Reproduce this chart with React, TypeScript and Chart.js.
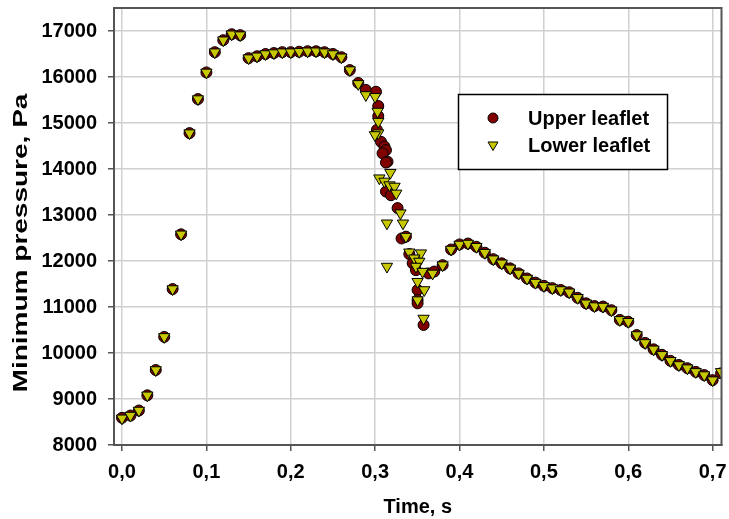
import { useEffect, useRef } from "react";
import { Chart, registerables } from "chart.js";

Chart.register(...registerables);

const FONT = "'Liberation Sans', Arial, sans-serif";

// ---- data ----
const upperTime = [
  0.0, 0.01, 0.02, 0.03, 0.04, 0.05, 0.06, 0.07, 0.08, 0.09, 0.1, 0.11, 0.12, 0.13, 0.14,
  0.15, 0.16, 0.17, 0.18, 0.19, 0.2, 0.21, 0.22, 0.23, 0.24, 0.25, 0.26, 0.27, 0.28,
  0.289, 0.301, 0.3037, 0.3037, 0.3021, 0.307, 0.311, 0.3128, 0.3088, 0.3147, 0.3128,
  0.3128, 0.3187, 0.3266, 0.3313, 0.3365, 0.3405, 0.3445, 0.3484, 0.3503, 0.3503, 0.3503,
  0.3574, 0.3633, 0.37, 0.38,
  0.39, 0.4, 0.41, 0.42, 0.43, 0.44, 0.45, 0.46, 0.47, 0.48, 0.49, 0.5, 0.51, 0.52, 0.53,
  0.54, 0.55, 0.56, 0.57, 0.58, 0.59, 0.6, 0.61, 0.62, 0.63, 0.64, 0.65, 0.66, 0.67, 0.68,
  0.69, 0.7, 0.71,
];
const upperPressure = [
  8590, 8640, 8750, 9080, 9630, 10350, 11390, 12580, 14780, 15520, 16100, 16540, 16800, 16930, 16910,
  16410, 16450, 16500, 16520, 16540, 16540, 16550, 16560, 16560, 16540, 16500, 16430, 16150, 15870,
  15720, 15680, 15370, 15150, 14850, 14590, 14490, 14410, 14340, 14160, 14140,
  13510, 13430, 13150, 12490, 12530, 12150, 11950, 11800, 11370, 11150, 11080,
  10610, 11730, 11770, 11910,
  12250, 12360, 12380, 12310, 12180, 12040, 11950, 11840, 11730, 11620, 11530, 11460, 11410, 11370, 11320,
  11200, 11080, 11020, 11010, 10930, 10720, 10680, 10390, 10220, 10080, 9960, 9830, 9740, 9670, 9590,
  9520, 9410, 9560,
];
const lowerTime = [
  0.0, 0.01, 0.02, 0.03, 0.04, 0.05, 0.06, 0.07, 0.08, 0.09, 0.1, 0.11, 0.12, 0.13, 0.14,
  0.15, 0.16, 0.17, 0.18, 0.19, 0.2, 0.21, 0.22, 0.23, 0.24, 0.25, 0.26, 0.27, 0.28,
  0.289, 0.3, 0.3029, 0.3037, 0.3037, 0.2997, 0.318, 0.305, 0.311, 0.317, 0.323, 0.325,
  0.314, 0.33, 0.333, 0.3365, 0.314, 0.3405, 0.3543, 0.3464, 0.3523, 0.3484, 0.3562,
  0.3681, 0.38, 0.3503, 0.3582, 0.3503, 0.3574,
  0.39, 0.4, 0.41, 0.42, 0.43, 0.44, 0.45, 0.46, 0.47, 0.48, 0.49, 0.5, 0.51, 0.52, 0.53,
  0.54, 0.55, 0.56, 0.57, 0.58, 0.59, 0.6, 0.61, 0.62, 0.63, 0.64, 0.65, 0.66, 0.67, 0.68,
  0.69, 0.7, 0.71,
];
const lowerPressure = [
  8580, 8640, 8750, 9080, 9630, 10350, 11390, 12580, 14780, 15520, 16100, 16540, 16800, 16930, 16910,
  16410, 16450, 16500, 16520, 16540, 16540, 16550, 16560, 16560, 16540, 16500, 16430, 16150, 15850,
  15610, 15570, 15250, 15030, 14780, 14740, 13920, 13800, 13730, 13650, 13620, 13470,
  12820, 13040, 12820, 12530, 11880, 12190, 12170, 12060, 11990, 11880, 11770,
  11730, 11910, 11550, 11370, 11150, 10750,
  12250, 12360, 12380, 12310, 12180, 12040, 11950, 11840, 11730, 11620, 11530, 11460, 11410, 11370, 11320,
  11200, 11080, 11020, 11010, 10930, 10720, 10680, 10390, 10220, 10080, 9960, 9830, 9740, 9670, 9590,
  9520, 9410, 9590,
];
const xTicks = [0, 0.1, 0.2, 0.3, 0.4, 0.5, 0.6, 0.7];
const xTickLabels = ["0,0", "0,1", "0,2", "0,3", "0,4", "0,5", "0,6", "0,7"];
const yTicks = [8000, 9000, 10000, 11000, 12000, 13000, 14000, 15000, 16000, 17000];
const seriesNames = ["Upper leaflet", "Lower leaflet"];
const xTitle = "Time, s";
const yTitle = "Minimum pressure, Pa";

const RED = "#800000";
const YEL = "#c8c800";
const FRAME = "#555555";
const GRID = "#d0d0d0";

export default function App() {
  const ref = useRef<HTMLCanvasElement>(null);
  useEffect(() => {
    document.body.style.margin = "0";
    const canvas = ref.current;
    if (!canvas) return;

    const framePlugin = {
      id: "frameAndLegend",
      afterDraw(chart: any) {
        const ctx = chart.ctx as CanvasRenderingContext2D;
        const { left, top, right, bottom } = chart.chartArea;
        ctx.save();
        ctx.strokeStyle = FRAME;
        ctx.lineWidth = 2;
        ctx.strokeRect(left, top, right - left, bottom - top);

        // y-axis title (stretched along its length like the reference)
        ctx.save();
        ctx.translate(21, 243);
        ctx.rotate(-Math.PI / 2);
        ctx.scale(1.4, 1);
        ctx.font = `bold 20px ${FONT}`;
        ctx.fillStyle = "#000";
        ctx.textAlign = "center";
        ctx.textBaseline = "middle";
        ctx.fillText(yTitle, 0, 0);
        ctx.restore();

        // legend box
        ctx.fillStyle = "#ffffff";
        ctx.fillRect(458, 94, 209, 75);
        ctx.strokeStyle = "#000000";
        ctx.lineWidth = 1.5;
        ctx.strokeRect(458.5, 94.5, 209, 75);

        // circle marker
        ctx.beginPath();
        ctx.arc(493, 118, 5, 0, Math.PI * 2);
        ctx.fillStyle = RED;
        ctx.fill();
        ctx.lineWidth = 1;
        ctx.strokeStyle = "#000";
        ctx.stroke();
        // triangle marker (pointing down)
        ctx.beginPath();
        ctx.moveTo(488, 142);
        ctx.lineTo(498, 142);
        ctx.lineTo(493, 150.5);
        ctx.closePath();
        ctx.fillStyle = YEL;
        ctx.fill();
        ctx.stroke();

        ctx.fillStyle = "#000";
        ctx.font = `bold 20px ${FONT}`;
        ctx.textBaseline = "middle";
        ctx.textAlign = "left";
        ctx.fillText(seriesNames[0], 528, 119);
        ctx.fillText(seriesNames[1], 528, 146);
        ctx.restore();
      },
    };

    const chart = new Chart(canvas, {
      type: "scatter",
      data: {
        datasets: [
          {
            label: seriesNames[0],
            data: upperTime.map((t, i) => ({ x: t, y: upperPressure[i] })),
            pointStyle: "circle",
            pointRadius: 5.5,
            backgroundColor: RED,
            borderColor: "#000",
            borderWidth: 1,
            order: 2,
          },
          {
            label: seriesNames[1],
            data: lowerTime.map((t, i) => ({ x: t, y: lowerPressure[i] })),
            pointStyle: "triangle",
            pointRotation: 180,
            pointRadius: 6.5,
            backgroundColor: YEL,
            borderColor: "#000",
            borderWidth: 1,
            order: 1,
          },
        ],
      },
      options: {
        responsive: false,
        animation: false,
        events: [],
        layout: { padding: { top: 8, right: 7, left: 0, bottom: 0 } },
        plugins: { legend: { display: false }, tooltip: { enabled: false } },
        scales: {
          x: {
            type: "linear",
            min: -0.0095,
            max: 0.7105,
            afterBuildTicks: (s: any) => {
              s.ticks = xTicks.map((v) => ({ value: v }));
            },
            afterFit: (s: any) => {
              s.height = 74;
              s.paddingLeft = 0;
              s.paddingRight = 0;
            },
            ticks: {
              callback: (v: any) => {
                const i = xTicks.findIndex((t) => Math.abs(t - Number(v)) < 1e-6);
                return i >= 0 ? xTickLabels[i] : "";
              },
              font: { family: FONT, size: 20, weight: "bold" },
              color: "#000",
              padding: 9,
              maxRotation: 0,
              autoSkip: false,
            },
            grid: { color: GRID, lineWidth: 1.5, tickColor: FRAME, tickLength: 6, tickWidth: 1.5 },
            border: { display: true, color: FRAME, width: 2 },
            title: {
              display: true,
              text: xTitle,
              font: { family: FONT, size: 20, weight: "bold" },
              color: "#000",
              padding: { top: 0, bottom: 0 },
            },
          },
          y: {
            type: "linear",
            min: 8000,
            max: 17500,
            afterBuildTicks: (s: any) => {
              s.ticks = yTicks.map((v) => ({ value: v }));
            },
            afterFit: (s: any) => {
              s.width = 114;
              s.paddingTop = 0;
              s.paddingBottom = 0;
            },
            ticks: {
              callback: (v: any) => String(v),
              font: { family: FONT, size: 20, weight: "bold" },
              color: "#000",
              padding: 11,
              autoSkip: false,
            },
            grid: { color: GRID, lineWidth: 1.5, tickColor: FRAME, tickLength: 6, tickWidth: 1.5 },
            border: { display: true, color: FRAME, width: 2 },
            title: { display: false, text: yTitle },
          },
        },
      },
      plugins: [framePlugin],
    } as any);

    return () => chart.destroy();
  }, []);

  return (
    <div style={{ position: "absolute", left: 0, top: 0, width: 729, height: 519 }}>
      <canvas ref={ref} width={729} height={519} style={{ display: "block" }} />
    </div>
  );
}
